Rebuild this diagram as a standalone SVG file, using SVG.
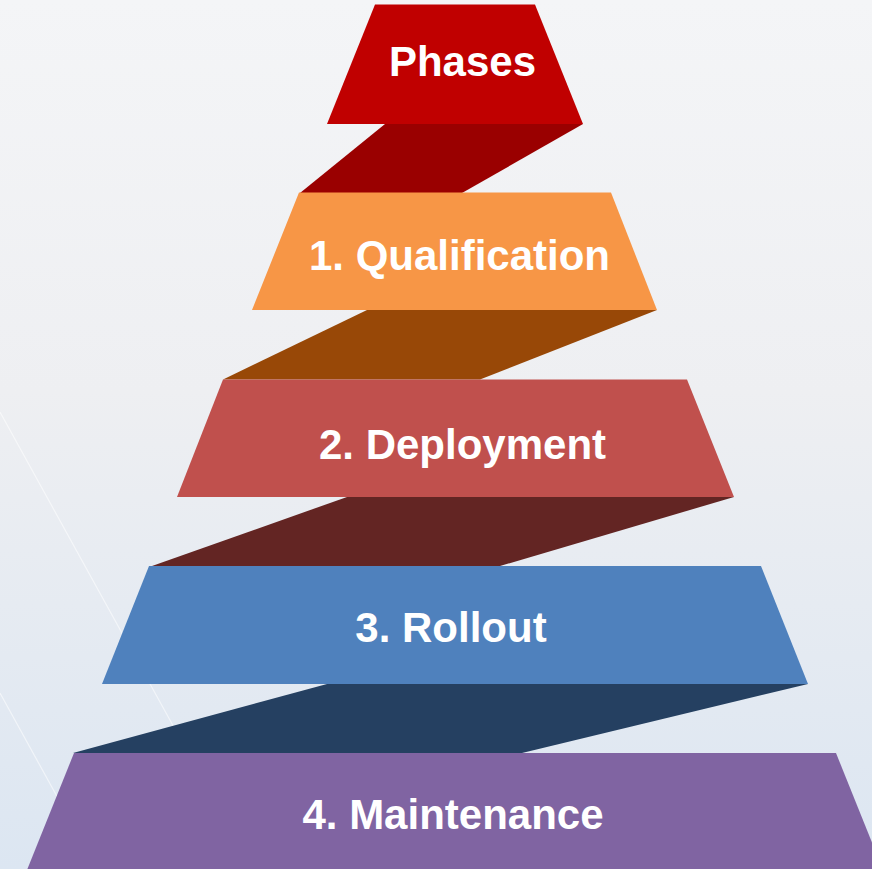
<svg xmlns="http://www.w3.org/2000/svg" width="872" height="869" viewBox="0 0 872 869">
  <defs>
    <linearGradient id="bg" x1="0" y1="0" x2="0" y2="1">
      <stop offset="0" stop-color="#F4F5F7"/>
      <stop offset="0.45" stop-color="#EEEFF2"/>
      <stop offset="1" stop-color="#DCE6F2"/>
    </linearGradient>
  </defs>
  <style>
    .lbl { font-family: "Liberation Sans", Arial, sans-serif; font-weight: bold; font-size: 42px; fill: #FFFFFF; text-anchor: middle; }
    .deco { stroke: #FFFFFF; stroke-opacity: 0.55; stroke-width: 1.2; fill: none; }
  </style>
  <rect x="0" y="0" width="872" height="869" fill="url(#bg)"/>
  <g id="decor">
    <line class="deco" x1="0" y1="412" x2="192" y2="760"/>
    <line class="deco" x1="0" y1="693" x2="70" y2="820"/>
  </g>
  <g id="connectors">
    <polygon points="385,124 583,124 462,193 300,193" fill="#9A0000"/>
    <polygon points="367,310 657,310 480,379.5 223,379.5" fill="#984807"/>
    <polygon points="347,497 734,497 500,566 152,566" fill="#632523"/>
    <polygon points="327,684 808,684 522,753 73,753" fill="#254061"/>
  </g>
  <g id="phases">
    <polygon points="375,4.5 535,4.5 583,124 327,124" fill="#C00000"/>
    <text class="lbl" x="462.5" y="76">Phases</text>
  </g>
  <g id="qualification">
    <polygon points="299,192.5 611,192.5 657,310 252,310" fill="#F79646"/>
    <text class="lbl" x="459.5" y="270">1. Qualification</text>
  </g>
  <g id="deployment">
    <polygon points="223,379.5 687,379.5 734,497 177,497" fill="#C0504D"/>
    <text class="lbl" x="462.5" y="459">2. Deployment</text>
  </g>
  <g id="rollout">
    <polygon points="149,566 761,566 808,684 102,684" fill="#4F81BD"/>
    <text class="lbl" x="451" y="642">3. Rollout</text>
  </g>
  <g id="maintenance">
    <polygon points="74,753 836,753 883,870 27,870" fill="#8064A2"/>
    <text class="lbl" x="453" y="829">4. Maintenance</text>
  </g>
</svg>
